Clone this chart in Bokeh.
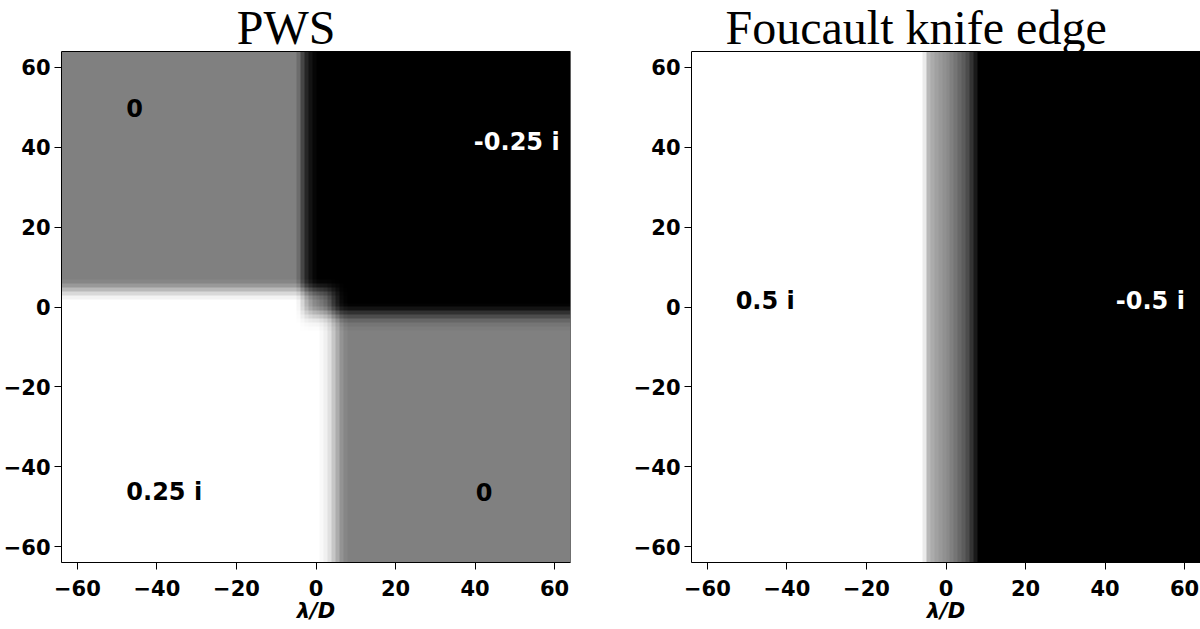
import numpy as np
from bokeh.plotting import figure
from bokeh.models import Range1d, FixedTicker, LinearColorMapper, ColumnDataSource, Row
from bokeh.core.properties import value
from bokeh.embed import file_html
from bokeh.resources import INLINE

# ---------------- data ----------------
EXTENT = [-64, 64]                      # lambda/D, both axes, 128 pixels
TICKS = [-60, -40, -20, 0, 20, 40, 60]
TICK_LABELS = ["\u221260", "\u221240", "\u221220", "0", "20", "40", "60"]

TITLES = ["PWS", "Foucault knife edge"]

# PWS quadrant values: top-left, top-right, bottom-left, bottom-right
PWS_QUAD_VALUES = [0.0, -0.25, 0.25, 0.0]

# PWS transitions read per image pixel (column left edge / row bottom edge -> weight)
PWS_UPPER_EDGE_COLS = [-5, -4, -3, -2, -1]          # gray -> black (upper half)
PWS_UPPER_EDGE_W = [0.15, 0.45, 0.70, 0.85, 0.95]
PWS_LOWER_EDGE_COLS = [1, 2, 3, 4, 5, 6, 7]         # white -> gray (lower half)
PWS_LOWER_EDGE_W = [0.05, 0.12, 0.25, 0.45, 0.65, 0.85, 0.95]
PWS_LEFT_EDGE_ROWS = [2, 3, 4, 5, 6]                # white -> gray (left half)
PWS_LEFT_EDGE_W = [0.10, 0.30, 0.55, 0.80, 0.95]
PWS_RIGHT_EDGE_ROWS = [-6, -5, -4, -3, -2, -1, 0]   # gray -> black (right half)
PWS_RIGHT_EDGE_W = [0.03, 0.08, 0.2, 0.4, 0.62, 0.85, 0.97]

# Foucault knife edge: 0.5 i on the left, -0.5 i on the right, per-pixel ramp
KNIFE_LEFT_VALUE = 0.5
KNIFE_RIGHT_VALUE = -0.5
KNIFE_EDGE_COLS = [-6, -5, -4, -3, -2, -1, 0, 1, 2, 3, 4, 5, 6, 7]
KNIFE_EDGE_VALUES = [0.42, 0.22, 0.17, 0.13, 0.10, 0.07, 0.04, 0.0,
                     -0.04, -0.09, -0.14, -0.20, -0.30, -0.40]

# in-panel annotations
PWS_ANNOT_TEXT = ["0", "-0.25 i", "0.25 i", "0"]
PWS_ANNOT_X = [-47.7, 39.7, -47.7, 40.2]
PWS_ANNOT_Y = [49.9, 41.4, -46.3, -46.3]
PWS_ANNOT_COLOR = ["black", "white", "black", "black"]
KNIFE_ANNOT_TEXT = ["0.5 i", "-0.5 i"]
KNIFE_ANNOT_X = [-52.9, 42.7]
KNIFE_ANNOT_Y = [1.6, 1.6]
KNIFE_ANNOT_COLOR = ["black", "white"]

# ---------------- build images ----------------
cols = np.arange(EXTENT[0], EXTENT[1])   # pixel left edges
rows = np.arange(EXTENT[0], EXTENT[1])   # pixel bottom edges


def profile(grid, idx, w, before, after):
    out = np.where(grid < idx[0], before, after).astype(float)
    for i, ww in zip(idx, w):
        out[grid == i] = ww
    return out


R_top = profile(cols, PWS_UPPER_EDGE_COLS, PWS_UPPER_EDGE_W, 0.0, 1.0)
R_bot = profile(cols, PWS_LOWER_EDGE_COLS, PWS_LOWER_EDGE_W, 0.0, 1.0)
T_left = profile(rows, PWS_LEFT_EDGE_ROWS, PWS_LEFT_EDGE_W, 0.0, 1.0)
T_right = profile(rows, PWS_RIGHT_EDGE_ROWS, PWS_RIGHT_EDGE_W, 0.0, 1.0)

Rm = 0.5 * (R_top + R_bot)
T = (1 - Rm)[None, :] * T_left[:, None] + Rm[None, :] * T_right[:, None]
R = T * R_top[None, :] + (1 - T) * R_bot[None, :]
tl, tr, bl, br = PWS_QUAD_VALUES
pws = T * (1 - R) * tl + T * R * tr + (1 - T) * (1 - R) * bl + (1 - T) * R * br

knife_row = profile(cols, KNIFE_EDGE_COLS, KNIFE_EDGE_VALUES, KNIFE_LEFT_VALUE, KNIFE_RIGHT_VALUE)
knife = np.tile(knife_row, (len(rows), 1))

GRAYS = ["#%02x%02x%02x" % (i, i, i) for i in range(256)]

# layout (pixels)
FIG_H = 629
BORDER_BOTTOM = 67
PX_PER_UNIT = 511 / 128.0
FRAME_TOP_GAP = 51          # blank space above the image, holds the title
Y_TOP = EXTENT[1] + FRAME_TOP_GAP / PX_PER_UNIT
TITLE_FONT_PX = 48
TITLE_BASELINE_PX = 26.5    # rendered baseline ends up ~17px lower (~43px)
TITLE_CENTER_SHIFT_PX = -30


def make_fig(width, mb_left, mb_right, title, img, low, high, ann):
    p = figure(width=width, height=FIG_H, title=None,
               x_range=Range1d(EXTENT[0], EXTENT[1]), y_range=Range1d(EXTENT[0], Y_TOP),
               output_backend="svg", toolbar_location=None,
               min_border_left=mb_left, min_border_right=mb_right,
               min_border_top=0, min_border_bottom=BORDER_BOTTOM)
    p.grid.visible = False
    p.background_fill_color = "white"
    p.border_fill_color = "white"
    p.outline_line_color = None
    for ax in (p.xaxis[0], p.yaxis[0]):
        ax.ticker = FixedTicker(ticks=TICKS)
        ax.major_label_overrides = dict(zip(TICKS, TICK_LABELS))
        ax.major_tick_out = 7
        ax.major_tick_in = 0
        ax.minor_tick_out = 0
        ax.minor_tick_in = 0
        ax.major_tick_line_color = "black"
        ax.axis_line_color = "black"
        ax.major_label_text_font = "DejaVu Sans"
        ax.major_label_text_font_size = "21px"
        ax.major_label_text_font_style = "bold"
        ax.major_label_text_color = "black"
    p.yaxis[0].major_label_standoff = 4
    p.xaxis[0].major_label_standoff = 10
    p.yaxis[0].bounds = (EXTENT[0], EXTENT[1])
    p.xaxis.axis_label = "\u03bb/D"
    p.xaxis.axis_label_text_font = "DejaVu Sans"
    p.xaxis.axis_label_text_font_size = "21px"
    p.xaxis.axis_label_text_font_style = "bold italic"
    p.xaxis.axis_label_text_color = "black"
    p.xaxis.axis_label_standoff = 0

    p.image(image=[img], x=EXTENT[0], y=EXTENT[0], dw=EXTENT[1] - EXTENT[0], dh=EXTENT[1] - EXTENT[0],
            color_mapper=LinearColorMapper(palette=GRAYS, low=low, high=high))
    # frame box around the image
    p.quad(left=[EXTENT[0]], right=[EXTENT[1]], bottom=[EXTENT[0]], top=[EXTENT[1]],
           fill_color=None, line_color="black", line_width=1)
    src = ColumnDataSource(dict(x=ann[0], y=ann[1], text=ann[2], color=ann[3]))
    p.text(x="x", y="y", text="text", text_color="color", source=src,
           text_font=value("DejaVu Sans"), text_font_style="bold", text_font_size="24px",
           text_align="left", text_baseline="middle")
    # title
    tx = (EXTENT[0] + EXTENT[1]) / 2 + TITLE_CENTER_SHIFT_PX / PX_PER_UNIT
    ty = Y_TOP - TITLE_BASELINE_PX / PX_PER_UNIT
    p.text(x=[tx], y=[ty], text=[title], text_font=value("Liberation Serif"),
           text_font_size="%dpx" % TITLE_FONT_PX, text_align="center", text_baseline="alphabetic",
           text_color="black")
    return p


p1 = make_fig(630, 60, 60, TITLES[0], pws, -0.25, 0.25,
              (PWS_ANNOT_X, PWS_ANNOT_Y, PWS_ANNOT_TEXT, PWS_ANNOT_COLOR))
p2 = make_fig(570, 60, 0, TITLES[1], knife, -0.5, 0.5,
              (KNIFE_ANNOT_X, KNIFE_ANNOT_Y, KNIFE_ANNOT_TEXT, KNIFE_ANNOT_COLOR))

layout = Row(children=[p1, p2])

open("out.html", "w").write(file_html(layout, INLINE))
